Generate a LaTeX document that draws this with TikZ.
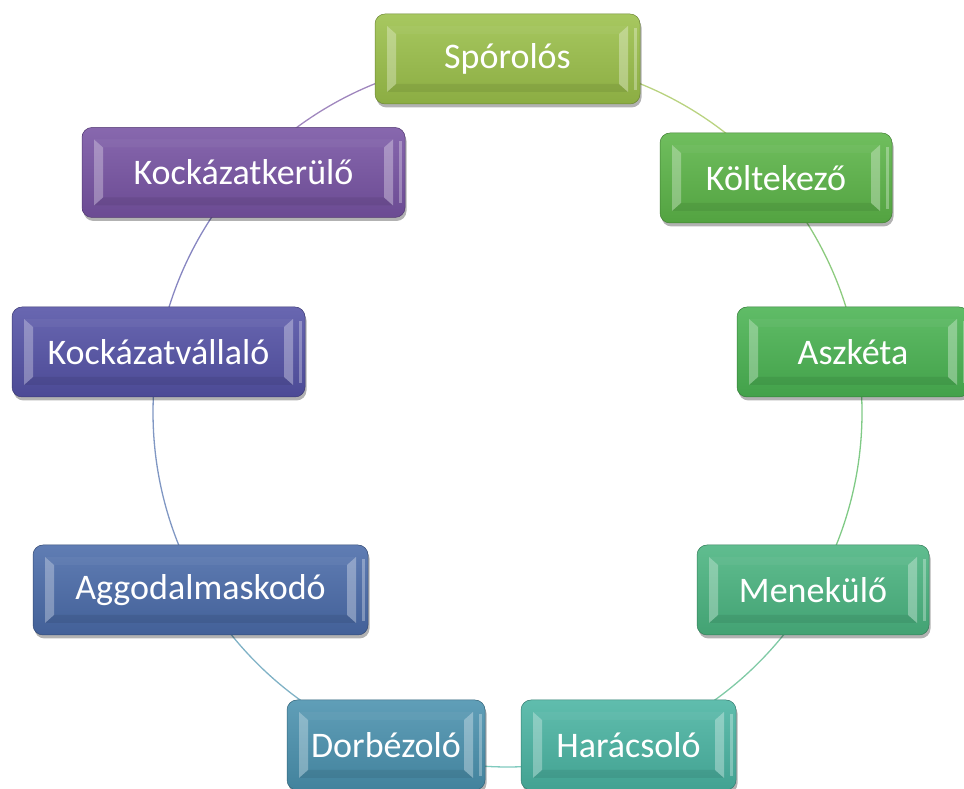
\documentclass[tikz,border=0pt]{standalone}
\usepackage{fontspec}
\setmainfont{Carlito}
\usetikzlibrary{shadows,calc}
\definecolor{cSpor}{HTML}{9BC04A}
\definecolor{cKolt}{HTML}{5CB548}
\definecolor{cAszk}{HTML}{4AB352}
\definecolor{cMene}{HTML}{4AB480}
\definecolor{cHara}{HTML}{4AB4A2}
\definecolor{cDorb}{HTML}{4A91AE}
\definecolor{cAggo}{HTML}{4A6BA9}
\definecolor{cKval}{HTML}{5452A6}
\definecolor{cKker}{HTML}{7753A3}
\tikzset{
  ring/.style={line width=1.3pt, #1!70!white},
  bevelbox/.style={
    rounded corners=10pt, minimum height=90pt, inner sep=0pt,
    text=white, font=\fontsize{36}{40}\selectfont,
    draw=#1!70!black, line width=0.5pt,
    top color=#1!88!white, bottom color=#1!90!black,
    drop shadow={shadow xshift=1.5pt, shadow yshift=-3.5pt, opacity=0.3, fill=black},
    path picture={
      \coordinate (pA) at (path picture bounding box.south west);
      \coordinate (pB) at (path picture bounding box.north east);
      \fill[white, fill opacity=0.3, sharp corners]
        ($(pA)+(12pt,12pt)$) -- ($(pA)+(21pt,20pt)$) --
        ($(pA|-pB)+(21pt,-20pt)$) -- ($(pA|-pB)+(12pt,-12pt)$) -- cycle;
      \fill[white, fill opacity=0.32, sharp corners]
        ($(pB|-pA)+(-12pt,12pt)$) -- ($(pB|-pA)+(-21pt,20pt)$) --
        ($(pB)+(-21pt,-20pt)$) -- ($(pB)+(-12pt,-12pt)$) -- cycle;
      \fill[black, fill opacity=0.07, sharp corners]
        ($(pA)+(12pt,12pt)$) -- ($(pA)+(21pt,20pt)$) --
        ($(pB|-pA)+(-21pt,20pt)$) -- ($(pB|-pA)+(-12pt,12pt)$) -- cycle;
      \fill[white, fill opacity=0.04, sharp corners]
        ($(pA|-pB)+(12pt,-12pt)$) -- ($(pA|-pB)+(21pt,-20pt)$) --
        ($(pB)+(-21pt,-20pt)$) -- ($(pB)+(-12pt,-12pt)$) -- cycle;
      \fill[white, fill opacity=0.3, sharp corners]
        ($(pB|-pA)+(-6pt,14pt)$) rectangle ($(pB)+(-3pt,-14pt)$);
    }
  }
}
\begin{document}
\begin{tikzpicture}[x=1pt,y=1pt]
\useasboundingbox (0,0) rectangle (964,789);
\coordinate (c) at (507.5,376.5);
% ring segments
\draw[ring=cSpor] ([shift={(90:354.5pt)}]c) arc[start angle=90, end angle=41.1, radius=354.5pt];
\draw[ring=cKolt] ([shift={(41.1:354.5pt)}]c) arc[start angle=41.1, end angle=10, radius=354.5pt];
\draw[ring=cAszk] ([shift={(10:354.5pt)}]c) arc[start angle=10, end angle=-30.2, radius=354.5pt];
\draw[ring=cMene] ([shift={(-30.2:354.5pt)}]c) arc[start angle=-30.2, end angle=-69.9, radius=354.5pt];
\draw[ring=cHara] ([shift={(-69.9:354.5pt)}]c) arc[start angle=-69.9, end angle=-110.1, radius=354.5pt];
\draw[ring=cDorb] ([shift={(-110.1:354.5pt)}]c) arc[start angle=-110.1, end angle=-150, radius=354.5pt];
\draw[ring=cAggo] ([shift={(-150:354.5pt)}]c) arc[start angle=-150, end angle=-189.8, radius=354.5pt];
\draw[ring=cKval] ([shift={(170.2:354.5pt)}]c) arc[start angle=170.2, end angle=137.7, radius=354.5pt];
\draw[ring=cKker] ([shift={(137.7:354.5pt)}]c) arc[start angle=137.7, end angle=90, radius=354.5pt];
% boxes
\node[bevelbox=cSpor, minimum width=265pt] (spor) at (507.5,730) {Spórolós};
\node[bevelbox=cKolt, minimum width=232pt] (kolt) at (776,611) {Költekező};
\node[bevelbox=cAszk, minimum width=232pt] (aszk) at (853,437) {Aszkéta};
\node[bevelbox=cMene, minimum width=232pt] (mene) at (813,199) {Menekülő};
\node[bevelbox=cHara, minimum width=215pt] (hara) at (628.5,44) {Harácsoló};
\node[bevelbox=cDorb, minimum width=198pt] (dorb) at (386,44) {Dorbézoló};
\node[bevelbox=cAggo, minimum width=335pt] (aggo) at (200.5,199) {Aggodalmaskodó};
\node[bevelbox=cKval, minimum width=293pt] (kval) at (158.5,437) {Kockázatvállaló};
\node[bevelbox=cKker, minimum width=323pt] (kker) at (243.5,616.5) {Kockázatkerülő};
\end{tikzpicture}
\end{document}
